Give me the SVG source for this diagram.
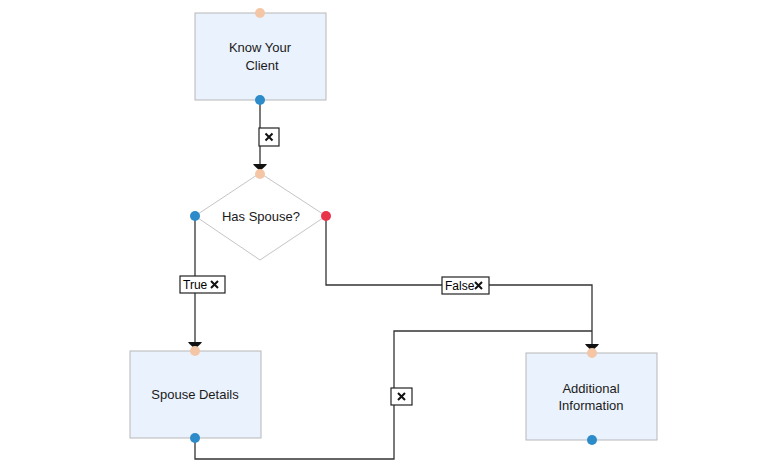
<svg xmlns="http://www.w3.org/2000/svg" width="780" height="467" viewBox="0 0 780 467">
<style>
.node{fill:#eaf2fd;stroke:#b8b8b8;stroke-width:1}
.dia{fill:#ffffff;stroke:#c4c4c4;stroke-width:1}
.t{font-family:"Liberation Sans",Arial,sans-serif;font-size:13px;fill:#1a1a1a;text-anchor:middle}
.lt{font-family:"Liberation Sans",Arial,sans-serif;font-size:12px;fill:#000}
.edge{fill:none;stroke:#333;stroke-width:1.3}
.lbl{fill:#fff;stroke:#222;stroke-width:1.2}
.x{stroke:#111;stroke-width:2;stroke-linecap:butt}
.pin{fill:#f5c6a5}
.pout{fill:#2e8bc9}
.pred{fill:#e8334a}
</style>
<defs>
<marker id="arr" markerWidth="8" markerHeight="16" refX="7" refY="8" orient="auto" markerUnits="userSpaceOnUse" viewBox="0 0 8 16">
<path d="M0,1 L0,15 L2,13.5 L7,8 L2,2.5 Z" fill="#111"/>
</marker>
</defs>
<g id="edges">
<path id="e1" class="edge" d="M260,100 L260,171" marker-end="url(#arr)"/>
<path id="e2" class="edge" d="M195,216 L195,349" marker-end="url(#arr)"/>
<path id="e3" class="edge" d="M326,216 L326,285 L592,285 L592,351" marker-end="url(#arr)"/>
<path id="e4" class="edge" d="M195,438 L195,459 L394,459 L394,331 L592,331"/>
<g id="l1"><rect class="lbl" x="259" y="128" width="20" height="18"/><path class="x" d="M265.5,133.5 L272.5,140.5 M272.5,133.5 L265.5,140.5"/></g>
<g id="l2"><rect class="lbl" x="180" y="276" width="45" height="17"/><text class="lt" x="183" y="289">True</text><path class="x" d="M211,281 L218,288 M218,281 L211,288"/></g>
<g id="l3"><rect class="lbl" x="442" y="277" width="47" height="17"/><text class="lt" x="445" y="290">False</text><path class="x" d="M475,282 L482,289 M482,282 L475,289"/></g>
<g id="l4"><rect class="lbl" x="391" y="388" width="21" height="17"/><path class="x" d="M398,393 L405,400 M405,393 L398,400"/></g>
</g>
<g id="kyc">
<rect class="node" x="195" y="13" width="131" height="87"/>
<text class="t" x="260" y="52">Know Your</text>
<text class="t" x="262" y="70">Client</text>
<circle class="pin" cx="260" cy="13" r="5"/>
<circle class="pout" cx="260" cy="100" r="5"/>
</g>
<g id="spouse">
<polygon class="dia" points="260,173 326,216 260,260 195,216"/>
<text class="t" x="261" y="221">Has Spouse?</text>
<circle class="pin" cx="260" cy="174" r="5"/>
<circle class="pout" cx="195" cy="216" r="5"/>
<circle class="pred" cx="326" cy="216" r="5"/>
</g>
<g id="details">
<rect class="node" x="130" y="351" width="131" height="87"/>
<text class="t" x="195" y="399">Spouse Details</text>
<circle class="pin" cx="195" cy="351" r="5"/>
<circle class="pout" cx="195" cy="438" r="5"/>
</g>
<g id="additional">
<rect class="node" x="526" y="353" width="131" height="87"/>
<text class="t" x="591" y="393">Additional</text>
<text class="t" x="591" y="410">Information</text>
<circle class="pin" cx="592" cy="353" r="5"/>
<circle class="pout" cx="592" cy="440" r="5"/>
</g>
</svg>
